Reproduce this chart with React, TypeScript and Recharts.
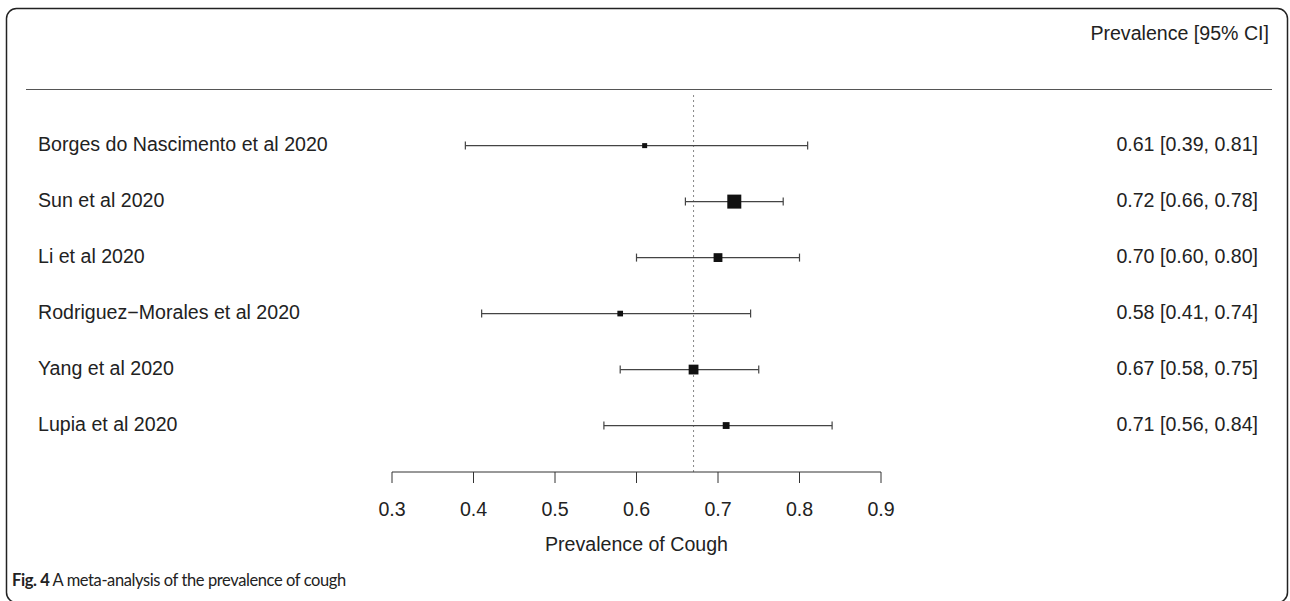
import { ComposedChart, Scatter, ErrorBar, XAxis, YAxis, ReferenceLine } from 'recharts';

const studies = [
  'Borges do Nascimento et al 2020',
  'Sun et al 2020',
  'Li et al 2020',
  'Rodriguez\u2212Morales et al 2020',
  'Yang et al 2020',
  'Lupia et al 2020',
];
const estimates = [0.61, 0.72, 0.7, 0.58, 0.67, 0.71];
const lower = [0.39, 0.66, 0.6, 0.41, 0.58, 0.56];
const upper = [0.81, 0.78, 0.8, 0.74, 0.75, 0.84];
// study weights (%), used for the box size
const weights = [9.0, 29.6, 17.7, 10.5, 20.0, 13.2];
const pooled = 0.67;
const xTicks = [0.3, 0.4, 0.5, 0.6, 0.7, 0.8, 0.9];
const rowTicks = studies.map((_, i) => i);

const FONT = '"Liberation Sans", Arial, Helvetica, sans-serif';
const TEXT = '#222';
const FS = 19.6;

const rows = studies.map((name, i) => ({
  row: i,
  name,
  est: estimates[i],
  err: [estimates[i] - lower[i], upper[i] - estimates[i]],
  weight: weights[i],
}));

const wMin = Math.min(...weights);
const wMax = Math.max(...weights);
const boxSide = (w: number) => 5 + ((w - wMin) / (wMax - wMin)) * 9;

function Box(props: any) {
  const { cx, cy, payload } = props;
  const s = boxSide(payload.weight);
  return <rect x={cx - s / 2} y={cy - s / 2} width={s} height={s} fill="#111" />;
}

function StudyTick({ y, payload }: any) {
  return (
    <text x={38} y={y} dy={5} fontSize={FS} fill={TEXT} fontFamily={FONT}>
      {studies[payload.value]}
    </text>
  );
}

function CiTick({ y, payload }: any) {
  const i = payload.value;
  const label = `${estimates[i].toFixed(2)} [${lower[i].toFixed(2)}, ${upper[i].toFixed(2)}]`;
  return (
    <text x={1258} y={y} dy={5} textAnchor="end" fontSize={FS} fill={TEXT} fontFamily={FONT}>
      {label}
    </text>
  );
}

export default function App() {
  return (
    <div style={{ position: 'absolute', left: 0, top: 0, width: 1290, height: 601, background: '#fff' }}>
      <ComposedChart
        width={1290}
        height={601}
        data={rows}
        margin={{ top: 93, right: 20, bottom: 44, left: 26 }}
      >
        <XAxis
          type="number"
          dataKey="est"
          domain={[0.3, 0.9]}
          ticks={xTicks}
          tickFormatter={(v: number) => v.toFixed(1)}
          tickSize={11}
          tickMargin={19}
          height={85}
          stroke="#333"
          tick={{ fill: TEXT, fontSize: FS, fontFamily: FONT }}
          label={{
            value: 'Prevalence of Cough',
            position: 'insideBottom',
            offset: 6,
            fill: TEXT,
            fontSize: FS,
            fontFamily: FONT,
          }}
        />
        <YAxis
          yAxisId="left"
          type="number"
          dataKey="row"
          domain={[-0.94, 5.83]}
          reversed
          ticks={rowTicks}
          width={366}
          axisLine={false}
          tickLine={false}
          tick={<StudyTick />}
        />
        <YAxis
          yAxisId="right"
          orientation="right"
          type="number"
          dataKey="row"
          domain={[-0.94, 5.83]}
          reversed
          ticks={rowTicks}
          width={389}
          axisLine={false}
          tickLine={false}
          tick={<CiTick />}
        />
        <ReferenceLine yAxisId="left" x={pooled} stroke="#888" strokeDasharray="2 3" />
        <Scatter yAxisId="left" data={rows} dataKey="row" shape={() => <g />} isAnimationActive={false}>
          <ErrorBar dataKey="err" direction="x" width={4} stroke="#444" strokeWidth={1.2} />
        </Scatter>
        <Scatter yAxisId="left" data={rows} dataKey="row" shape={<Box />} isAnimationActive={false} />
      </ComposedChart>
      <svg
        width={1290}
        height={601}
        style={{ position: 'absolute', left: 0, top: 0, pointerEvents: 'none' }}
      >
        <rect x={6.5} y={8.5} width={1281} height={594} rx={10} fill="none" stroke="#222" strokeWidth={1.5} />
        <line x1={26} x2={1272} y1={89.5} y2={89.5} stroke="#555" strokeWidth={1} />
        <text x={1269} y={40} textAnchor="end" fontSize={FS} fill={TEXT} fontFamily={FONT}>
          Prevalence [95% CI]
        </text>
        <text
          x={12}
          y={586}
          fontSize={16.5}
          fill={TEXT}
          letterSpacing={-0.4}
          fontFamily="Lato, 'Noto Sans', sans-serif"
        >
          <tspan fontWeight="bold">Fig. 4</tspan>
          <tspan> A meta-analysis of the prevalence of cough</tspan>
        </text>
      </svg>
    </div>
  );
}
